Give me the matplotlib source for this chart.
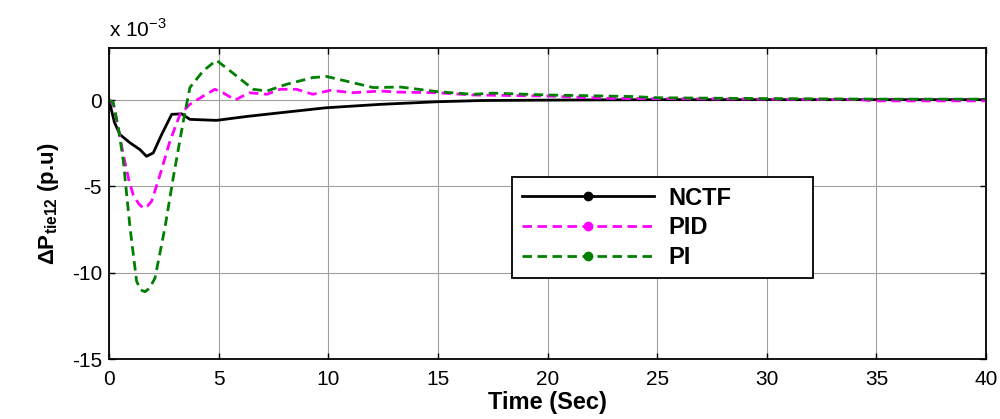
import matplotlib
matplotlib.use('Agg')
import matplotlib.pyplot as plt
from matplotlib.lines import Line2D

plt.rcParams['font.family'] = ['Liberation Sans', 'DejaVu Sans']
plt.rcParams['mathtext.fontset'] = 'custom'
plt.rcParams['mathtext.rm'] = 'Liberation Sans'
plt.rcParams['mathtext.bf'] = 'Liberation Sans:bold'
plt.rcParams['axes.unicode_minus'] = False

# values in units of 1e-3 p.u.
t_nctf = [0, 0.25, 0.5, 0.96, 1.41, 1.71, 2.02, 2.4, 2.86, 3.31, 3.69, 4.9,
          6.3, 7.8, 9.9, 12.4, 15, 17, 21, 25, 30, 35, 40]
nctf = [0, -1.3, -2.0, -2.48, -2.87, -3.26, -3.06, -2.0, -0.83, -0.8, -1.12,
        -1.18, -0.95, -0.74, -0.45, -0.25, -0.1, -0.03, 0, 0.02, 0.02, 0.02, 0.02]

t_pid = [0, 0.2, 0.45, 0.65, 0.9, 1.1, 1.35, 1.56, 1.75, 1.94, 2.33, 2.78,
         3.24, 3.69, 4.3, 4.83, 5.2, 5.75, 6.4, 7.2, 7.8, 8.55, 9.3, 10.1,
         11.1, 12.4, 13.1, 15, 16.6, 20, 22.7, 25, 30, 34, 35, 40]
pid = [0, -0.25, -1.8, -3.16, -4.6, -5.48, -6.0, -6.26, -6.15, -5.87, -4.32,
       -2.38, -0.83, -0.25, 0.23, 0.62, 0.42, 0.0, 0.42, 0.33, 0.62, 0.62,
       0.33, 0.56, 0.42, 0.52, 0.46, 0.42, 0.29, 0.23, 0.1, 0.08, 0.05, 0.03,
       -0.05, -0.05]

t_pi = [0, 0.2, 0.45, 0.65, 0.96, 1.26, 1.45, 1.64, 1.85, 2.1, 2.55, 2.93,
        3.39, 3.69, 4.3, 4.9, 5.52, 6.58, 7.2, 8.1, 9.3, 9.93, 10.8, 12.05,
        13.3, 15, 16.6, 17.5, 20, 23.9, 25, 30, 35, 40]
pi_ = [0, -0.16, -1.8, -3.5, -7.4, -10.5, -11.0, -11.1, -10.9, -10.3, -7.4,
       -4.5, -1.22, 0.72, 1.69, 2.3, 1.69, 0.62, 0.52, 0.91, 1.3, 1.36, 1.1,
       0.72, 0.75, 0.48, 0.33, 0.4, 0.29, 0.2, 0.13, 0.08, 0.05, 0.05]

labels = ['NCTF', 'PID', 'PI']
colors = ['black', '#ff00ff', '#008000']

fig = plt.figure(figsize=(10, 4.19), dpi=100)
ax = fig.add_axes([0.109, 0.143, 0.877, 0.742])

dash = (3.4, 2.0)
ax.plot(t_nctf, nctf, color=colors[0], lw=2.0)
ax.plot(t_pid, pid, color=colors[1], lw=2.0, dashes=dash)
ax.plot(t_pi, pi_, color=colors[2], lw=2.0, dashes=dash)

ax.set_xlim(0, 40)
ax.set_ylim(-15, 3)
ax.set_xticks(range(0, 41, 5))
ax.set_yticks([-15, -10, -5, 0])
ax.grid(True, color='#a0a0a0', lw=0.8)
ax.set_axisbelow(True)
ax.tick_params(direction='in', top=True, right=True, length=4, width=1,
               labelsize=15, pad=5)
ax.tick_params(axis='x', pad=8)
for s in ax.spines.values():
    s.set_linewidth(1.3)

ax.set_xlabel('Time (Sec)', fontsize=17, fontweight='bold', labelpad=1)
ax.set_ylabel(r'$\mathbf{\Delta P_{tie12}}$ (p.u)', fontsize=16,
              fontweight='bold', labelpad=8)
ax.text(0.0, 1.025, r'x 10$^{-3}$', transform=ax.transAxes, fontsize=15,
        ha='left', va='bottom')

handles = [Line2D([], [], color=colors[0], lw=2.0, marker='o', markersize=6),
           Line2D([], [], color=colors[1], lw=2.0, dashes=dash, marker='o',
                  markersize=6),
           Line2D([], [], color=colors[2], lw=2.0, dashes=dash, marker='o',
                  markersize=6)]
leg = ax.legend(handles, labels, loc='upper left',
                bbox_to_anchor=(0.46, 0.25, 0.343, 0.335), mode='expand',
                borderaxespad=0, fancybox=False, framealpha=1,
                edgecolor='black', handlelength=5.6, handletextpad=0.6,
                labelspacing=0.28, borderpad=0.4,
                prop={'size': 17, 'weight': 'bold'})
leg.get_frame().set_linewidth(1.3)

fig.savefig('out.png', dpi=100)
